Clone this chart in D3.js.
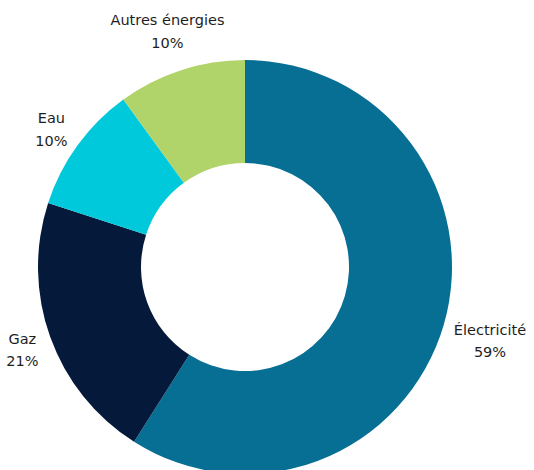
<!DOCTYPE html>
<html><head><meta charset="utf-8">
<script src="https://cdn.jsdelivr.net/npm/d3@7"></script>
<style>html,body{margin:0;padding:0;background:#fff;}svg{display:block;}</style>
</head><body>
<svg id="chart" width="534" height="470"></svg>
<script>
const categories = ["Électricité", "Gaz", "Eau", "Autres énergies"];
const values = [59, 21, 10, 10];
const colors = ["#076f93", "#051a3a", "#00c9dc", "#b0d46a"];

const W = 534, H = 470;
const cx = 245, cy = 267, R = 207, r = 104, pad = 8;
const svg = d3.select("#chart");
const g = svg.append("g").attr("transform", `translate(${cx},${cy})`);

const pie = d3.pie().sort(null).value(d => d.v);
const data = pie(categories.map((c, i) => ({c, v: values[i], col: colors[i]})));
const arc = d3.arc().innerRadius(r).outerRadius(R);

g.selectAll("path").data(data).join("path")
  .attr("d", arc).attr("fill", d => d.data.col);

const lab = g.selectAll("text.lab").data(data).join("text")
  .attr("class", "lab")
  .attr("text-anchor", "middle")
  .attr("font-family", "'DejaVu Sans', sans-serif")
  .attr("font-size", 14.5)
  .attr("fill", "#1e1e1e");
lab.append("tspan").attr("x", 0).attr("y", 0).text(d => d.data.c);
lab.append("tspan").attr("x", 0).attr("y", 22.5).text(d => d.data.v + "%");

lab.each(function(d) {
  const bb = this.getBBox();
  const a = (d.startAngle + d.endAngle) / 2;
  const dx = Math.sin(a), dy = -Math.cos(a);
  const ext = Math.abs(dx) * bb.width / 2 + Math.abs(dy) * bb.height / 2;
  const dist = R + pad + ext;
  const px = dx * dist, py = dy * dist + 3;
  const tx = px - (bb.x + bb.width / 2);
  const ty = py - (bb.y + bb.height / 2);
  d3.select(this).attr("transform", `translate(${tx},${ty})`);
});
</script>
</body></html>
